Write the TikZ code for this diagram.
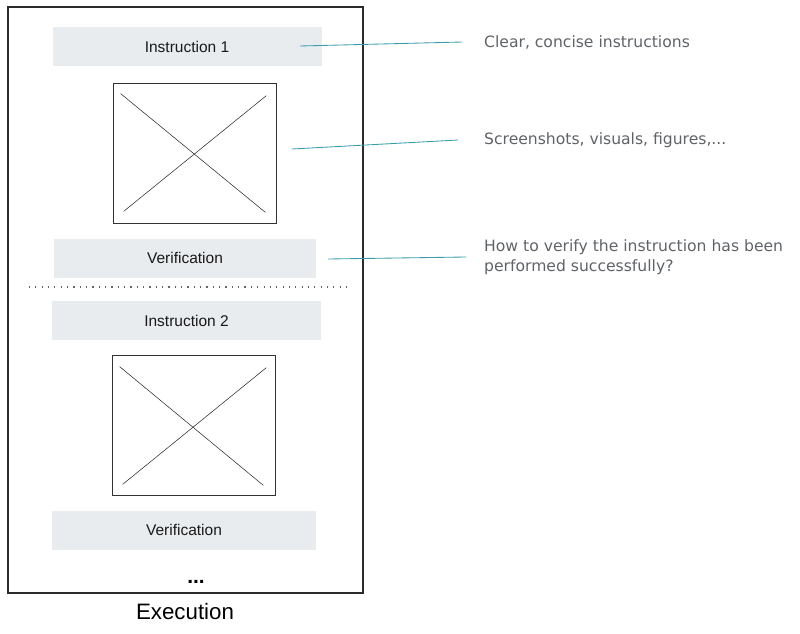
\documentclass[tikz,border=0pt]{standalone}
\usepackage{fontspec}
\setmainfont{Liberation Sans}
\newfontfamily\notefont{DejaVu Sans}
\usepackage{xcolor}
\usetikzlibrary{calc,positioning}
\definecolor{barGray}{HTML}{E9ECEF}
\definecolor{frameGray}{HTML}{2B2B2B}
\definecolor{linkTeal}{HTML}{3B9CAE}
\definecolor{noteGray}{HTML}{5F6368}
\tikzstyle{tsFrame} = [
    draw=frameGray,
    line width=0.45mm]
\tikzstyle{tsBar} = [
    rectangle,
    fill=barGray,
    text=black!90,
    font=\fontsize{15.5}{18}\selectfont,
    minimum height=39pt,
    inner sep=0pt]
\tikzstyle{tsPicture} = [
    rectangle,
    draw=black!80,
    line width=0.25mm,
    minimum width=163pt,
    minimum height=140pt,
    inner sep=0pt]
\tikzstyle{tsCross} = [
    draw=black!80,
    line width=0.2mm]
\tikzstyle{tsNote} = [
    text=noteGray,
    font=\notefont\fontsize{15.6}{20}\selectfont,
    anchor=west,
    align=left,
    inner sep=0pt]
\tikzstyle{tsLink} = [
    draw=linkTeal,
    line width=0.3mm]

\begin{document}
\begin{tikzpicture}[x=1pt, y=-1pt]

    \useasboundingbox (0,0) rectangle (800,634);

    % outer page
    \draw[tsFrame] (8,7) rectangle (363,593);

    % first step
    \node[tsBar, minimum width=269pt] (instr1) at (187,47) {Instruction 1};
    \node[tsPicture] (img1) at (194.5,153) {};
    \draw[tsCross] ($(img1.north west)+(8,11)$) -- ($(img1.south east)+(-11,-11)$);
    \draw[tsCross] ($(img1.south west)+(11,-12)$) -- ($(img1.north east)+(-10,13)$);
    \node[tsBar, minimum width=262pt] (verif1) at (185,258) {Verification};

    \draw[dotted, black!60, line width=0.4mm,
          dash pattern=on 0.4mm off 5.2pt] (29,287) -- (348,287);

    % second step
    \node[tsBar, minimum width=269pt] (instr2) at (186.5,320.5) {Instruction 2};
    \node[tsPicture] (img2) at (193.5,425) {};
    \draw[tsCross] ($(img2.north west)+(8,12)$) -- ($(img2.south east)+(-12,-10)$);
    \draw[tsCross] ($(img2.south west)+(11,-11)$) -- ($(img2.north east)+(-9,13)$);
    \node[tsBar, minimum width=264pt] (verif2) at (184,530) {Verification};

    \node[font=\bfseries\fontsize{21}{24}\selectfont, anchor=base] (moreDots) at (196,583) {...};
    \node[font=\fontsize{22.3}{26}\selectfont] (execLabel) at (185,612) {Execution};

    % notes
    \node[tsNote] (note1) at (484,42) {Clear, concise instructions};
    \node[tsNote] (note2) at (484,140) {Screenshots, visuals, figures,...};
    \node[tsNote] (note3) at (484,257) {How to verify the instruction has been\\performed successfully?};

    \coordinate (from1) at (300,46);
    \coordinate (from2) at (292,149);
    \coordinate (from3) at (328,259);
    \draw[tsLink] (from1) -- ([xshift=-22pt]note1.west);
    \draw[tsLink] (from2) -- ([xshift=-26pt]note2.west);
    \draw[tsLink] (from3) -- ([xshift=-18pt]note3.west);

\end{tikzpicture}
\end{document}
